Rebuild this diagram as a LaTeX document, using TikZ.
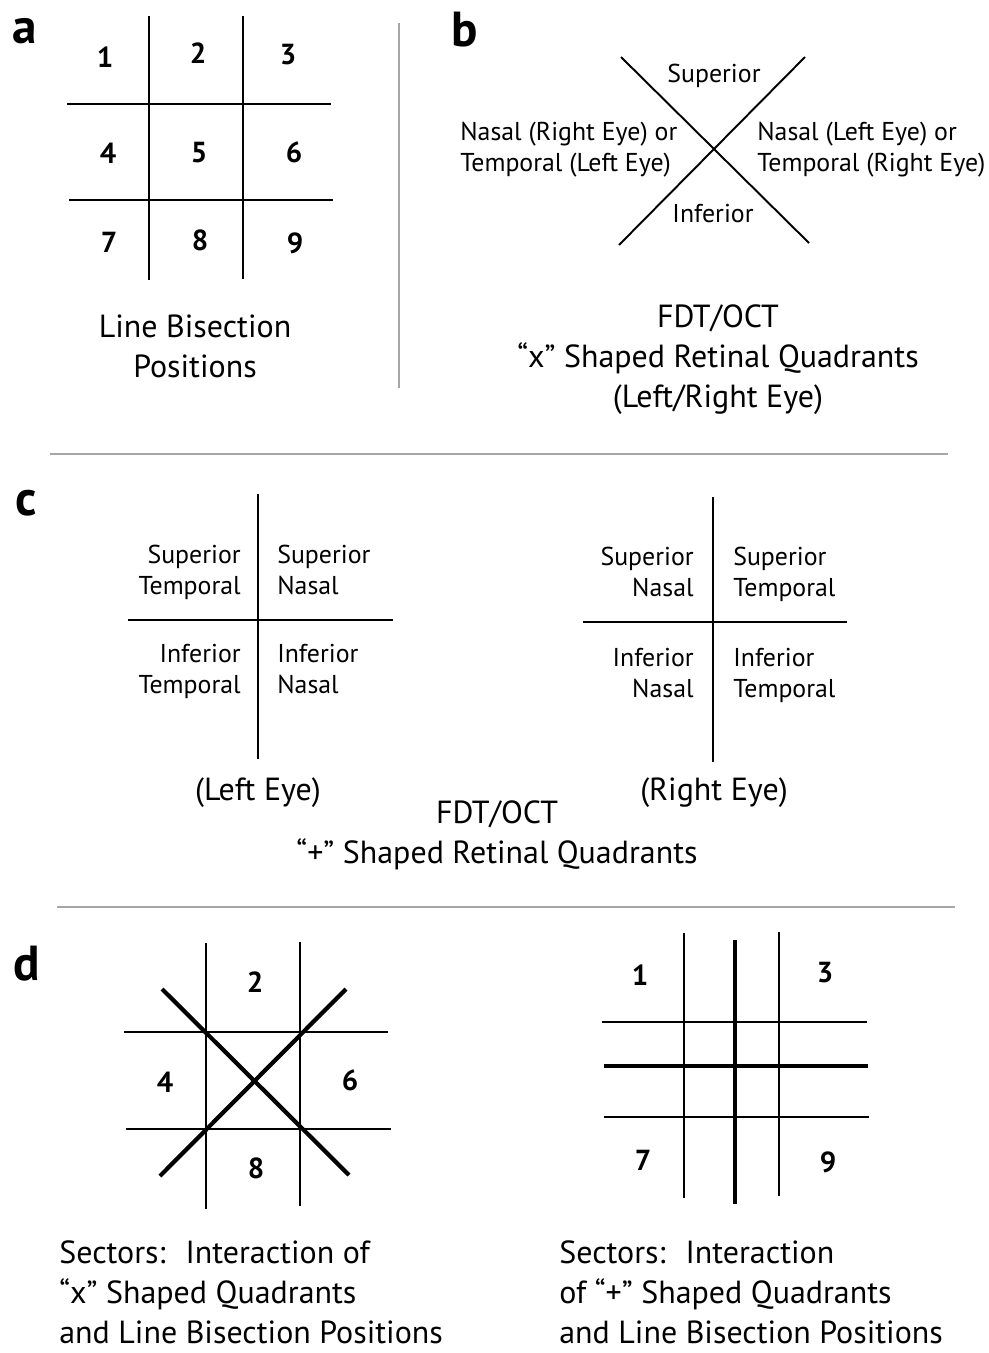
\documentclass[tikz,border=0pt]{standalone}
\usepackage{fontspec}
\setmainfont{PT Sans}
\usepackage{tikz}
\usetikzlibrary{positioning}
\tikzstyle{panel} = [inner sep=0pt, font=\fontsize{28}{30}\selectfont\bfseries]
\tikzstyle{num} = [inner sep=0pt, font=\fontsize{16.5}{20}\selectfont\bfseries]
\tikzstyle{caption} = [inner sep=0pt, align=center, font=\fontsize{18.2}{22.7}\selectfont]
\tikzstyle{sector} = [inner sep=0pt, align=left, font=\fontsize{18.2}{22.7}\selectfont]
\tikzstyle{quad} = [inner sep=0pt, font=\fontsize{14.7}{17.6}\selectfont]
\tikzstyle{grid} = [line width=1.1pt]
\tikzstyle{heavy} = [line width=2.4pt]
\tikzstyle{rule} = [line width=0.9pt, black!35]

\begin{document}
\begin{tikzpicture}[x=0.02cm, y=-0.02cm]
    \useasboundingbox (0,0) rectangle (988,1353);

    % We start with panel a, the nine line bisection positions
    \node [panel, anchor=base] (la) at (25,43) {a};
    \draw [grid] (149,16) -- (149,280);
    \draw [grid] (243,16) -- (243,279);
    \draw [grid] (67,104) -- (331,104);
    \draw [grid] (69,200) -- (333,200);
    \node [num, anchor=base] (a1) at (105,67) {1};
    \node [num, anchor=base] (a2) at (198,63) {2};
    \node [num, anchor=base] (a3) at (288,64) {3};
    \node [num, anchor=base] (a4) at (108,163) {4};
    \node [num, anchor=base] (a5) at (199,162) {5};
    \node [num, anchor=base] (a6) at (294,162) {6};
    \node [num, anchor=base] (a7) at (109,252) {7};
    \node [num, anchor=base] (a8) at (200,250) {8};
    \node [num, anchor=base] (a9) at (295,253) {9};
    % (the base of a multi-line node is its last line)
    \node [caption, anchor=base] (acap) at (195,377) {Line Bisection\\Positions};

    % Separators between the panels
    \draw [rule] (399,23) -- (399,388);
    \draw [rule] (50,454) -- (948,454);
    \draw [rule] (57,907) -- (955,907);

    % Panel b, the "x" quadrants
    \node [panel, anchor=base] (lb) at (465,46) {b};
    \draw [grid] (621,57) -- (809,243);
    \draw [grid] (805,57) -- (619,245);
    \node [quad, anchor=base] (bsup) at (714,82) {Superior};
    \node [quad, anchor=base] (binf) at (713,222) {Inferior};
    \node [quad, align=left, anchor=base west] (bleft) at (460,171) {Nasal (Right Eye) or\\Temporal (Left Eye)};
    \node [quad, align=left, anchor=base west] (bright) at (757,171) {Nasal (Left Eye) or\\Temporal (Right Eye)};
    \node [caption, anchor=base] (bcap) at (718,407) {FDT/OCT\\“x” Shaped Retinal Quadrants\\(Left/Right Eye)};

    % Panel c, the "+" quadrants for each eye
    \node [panel, anchor=base] (lc) at (26,515) {c};
    \draw [grid] (258,494) -- (258,759);
    \draw [grid] (128,620) -- (393,620);
    \draw [grid] (713,497) -- (713,762);
    \draw [grid] (583,622) -- (847,622);
    \node [quad, align=right, anchor=base east] (lst) at (241,594) {Superior\\Temporal};
    \node [quad, align=left, anchor=base west] (lsn) at (277,594) {Superior\\Nasal};
    \node [quad, align=right, anchor=base east] (lit) at (241,693) {Inferior\\Temporal};
    \node [quad, align=left, anchor=base west] (lin) at (277,693) {Inferior\\Nasal};
    \node [quad, align=right, anchor=base east] (rsn) at (694,596) {Superior\\Nasal};
    \node [quad, align=left, anchor=base west] (rst) at (733,596) {Superior\\Temporal};
    \node [quad, align=right, anchor=base east] (rin) at (694,697) {Inferior\\Nasal};
    \node [quad, align=left, anchor=base west] (rit) at (733,697) {Inferior\\Temporal};
    \node [caption, anchor=base] (leye) at (258,800) {(Left Eye)};
    \node [caption, anchor=base] (reye) at (714,800) {(Right Eye)};
    \node [caption, anchor=base] (ccap) at (497,863) {FDT/OCT\\“+” Shaped Retinal Quadrants};

    % Panel d, left: "x" over the bisection grid
    \node [panel, anchor=base] (ld) at (27,980) {d};
    \draw [grid] (206,943) -- (206,1209);
    \draw [grid] (300,942) -- (300,1206);
    \draw [grid] (124,1032) -- (388,1032);
    \draw [grid] (126,1129) -- (391,1129);
    \draw [heavy] (162,989) -- (349,1175);
    \draw [heavy] (346,989) -- (160,1176);
    \node [num, anchor=base] (d2) at (255,992) {2};
    \node [num, anchor=base] (d4) at (165,1092) {4};
    \node [num, anchor=base] (d6) at (350,1090) {6};
    \node [num, anchor=base] (d8) at (256,1178) {8};
    \node [sector, anchor=base west] (dxcap) at (59,1343) {Sectors:~ Interaction of\\“x” Shaped Quadrants\\and Line Bisection Positions};

    % Panel d, right: "+" over the bisection grid
    \draw [grid] (684,933) -- (684,1198);
    \draw [grid] (779,932) -- (779,1196);
    \draw [heavy] (735,940) -- (735,1204);
    \draw [grid] (602,1022) -- (867,1022);
    \draw [grid] (604,1117) -- (869,1117);
    \draw [heavy] (604,1066) -- (868,1066);
    \node [num, anchor=base] (d1) at (640,985) {1};
    \node [num, anchor=base] (d3) at (825,982) {3};
    \node [num, anchor=base] (d7) at (643,1170) {7};
    \node [num, anchor=base] (d9) at (828,1172) {9};
    \node [sector, anchor=base west] (dpcap) at (559,1343) {Sectors:~ Interaction\\of “+” Shaped Quadrants\\and Line Bisection Positions};
\end{tikzpicture}
\end{document}
